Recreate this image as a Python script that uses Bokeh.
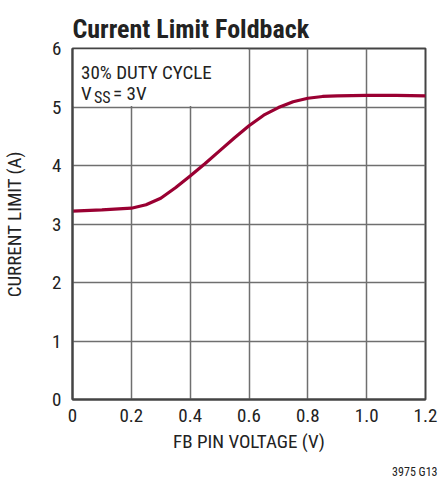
from bokeh.plotting import figure
from bokeh.models import Label, Range1d, FixedTicker, Title
from bokeh.embed import file_html
from bokeh.resources import INLINE

# data
fb_voltage = [0.0, 0.1, 0.2, 0.25, 0.3, 0.35, 0.4, 0.45, 0.5, 0.55, 0.6, 0.65, 0.7, 0.75, 0.8, 0.85, 0.9, 1.0, 1.1, 1.2]
current_limit = [3.22, 3.24, 3.27, 3.33, 3.44, 3.62, 3.82, 4.03, 4.25, 4.47, 4.68, 4.86, 4.99, 5.09, 5.15, 5.18, 5.19, 5.2, 5.2, 5.19]
x_ticks = [0, 0.2, 0.4, 0.6, 0.8, 1.0, 1.2]
x_tick_labels = ["0", "0.2", "0.4", "0.6", "0.8", "1.0", "1.2"]
y_ticks = [0, 1, 2, 3, 4, 5, 6]

FONT = "Liberation Sans Narrow, Roboto Condensed, Arial Narrow, sans-serif"

p = figure(width=440, height=485, output_backend="svg", toolbar_location=None,
           x_range=Range1d(0, 1.2), y_range=Range1d(0, 6),
           min_border_left=71, min_border_right=15, min_border_top=48, min_border_bottom=85)

p.title.text = "Current Limit Foldback"
p.title.text_font = FONT
p.title.text_font_style = "bold"
p.title.text_font_size = "26px"
p.title.text_color = "#222222"
p.title.align = "left"
p.title.offset = 0
p.title.standoff = 10

p.outline_line_color = "#444444"
p.outline_line_width = 2

for ax in (p.xaxis[0], p.yaxis[0]):
    ax.major_tick_out = 0
    ax.major_tick_in = 0
    ax.minor_tick_line_color = None
    ax.axis_line_color = "#444444"
    ax.axis_line_width = 2
    ax.major_label_text_font = FONT
    ax.major_label_text_font_size = "19px"
    ax.major_label_text_color = "#222222"
    ax.axis_label_text_font = FONT
    ax.axis_label_text_font_size = "19px"
    ax.axis_label_text_font_style = "normal"
    ax.axis_label_text_color = "#222222"

p.xaxis.ticker = FixedTicker(ticks=x_ticks)
p.xaxis.major_label_overrides = {t: l for t, l in zip(x_ticks, x_tick_labels)}
p.yaxis.ticker = FixedTicker(ticks=y_ticks)
p.xaxis.axis_label = "FB PIN VOLTAGE (V)"
p.yaxis.axis_label = "CURRENT LIMIT (A)"
p.xaxis.major_label_standoff = 9
p.yaxis.major_label_standoff = 11
p.xaxis.axis_label_standoff = 5
p.yaxis.axis_label_standoff = 23

p.xgrid.ticker = FixedTicker(ticks=x_ticks)
p.ygrid.ticker = FixedTicker(ticks=y_ticks)
for g in (p.xgrid[0], p.ygrid[0]):
    g.grid_line_color = "#6f6f6f"
    g.grid_line_width = 1.5

# white box behind annotation text (hides grid lines there)
p.quad(left=[0.004], right=[0.597], bottom=[5.015], top=[5.985],
       fill_color="white", line_color=None)

p.line(fb_voltage, current_limit, line_color="#9A0032", line_width=3.2)

txt = dict(text_font=FONT, text_color="#222222", text_font_size="19px", text_baseline="alphabetic")
p.add_layout(Label(x=0.029, y=5.596, text="30% DUTY CYCLE", **txt))
p.add_layout(Label(x=0.029, y=5.228, text="V", **txt))
p.add_layout(Label(x=0.073, y=5.17, text="SS", text_font=FONT, text_color="#222222",
                   text_font_size="16px", text_baseline="alphabetic"))
p.add_layout(Label(x=0.138, y=5.228, text=" = 3V", **txt))

note = Title(text="3975 G13", align="right", text_font=FONT, text_font_size="12px",
             text_font_style="normal", text_color="#222222", standoff=14, offset=-12,
             vertical_align="bottom")
p.add_layout(note, "below")

open("out.html", "w").write(file_html(p, INLINE))
